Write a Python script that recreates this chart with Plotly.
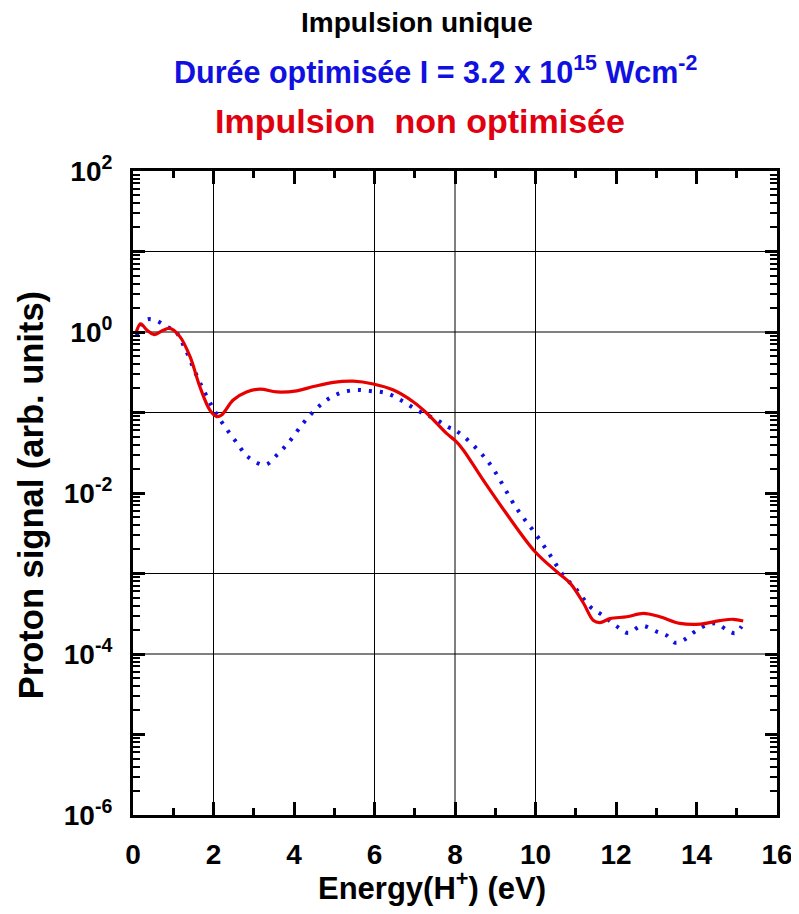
import plotly.graph_objects as go
import math

# ---- data ----
energy_red = [0.07, 0.19, 0.35, 0.53, 0.75, 0.92, 1.17, 1.42, 1.66, 1.91, 2.08, 2.2, 2.49, 2.82,
              3.16, 3.57, 4.07, 4.48, 4.98, 5.47, 5.97, 6.47, 6.96, 7.3, 7.79, 8.02, 8.21, 8.66,
              9.25, 9.99, 10.53, 10.86, 11.19, 11.44, 11.6, 11.85, 12.27, 12.68, 13.09, 13.59,
              14.09, 14.58, 14.91, 15.16]
signal_red = [0.96, 1.26, 1.05, 0.93, 1.05, 1.11, 0.87, 0.49, 0.21, 0.107, 0.089, 0.093, 0.143, 0.18,
              0.195, 0.18, 0.186, 0.21, 0.237, 0.245, 0.226, 0.19, 0.136, 0.098, 0.055, 0.044, 0.034, 0.0155,
              0.0058, 0.00186, 0.00105, 0.00076, 0.00043, 0.00026, 0.000245, 0.000275, 0.00029, 0.00032,
              0.00029, 0.00024, 0.000235, 0.00026, 0.00027, 0.000257]

energy_blue = [0.09, 0.21, 0.38, 0.59, 0.84, 1.04, 1.29, 1.54, 1.79, 2.04, 2.29, 2.58, 2.86, 3.28,
               3.57, 3.86, 4.23, 4.52, 4.81, 5.14, 5.52, 5.89, 6.3, 6.72, 7.13, 7.55, 7.83, 8.02,
               8.79, 9.53, 9.99, 10.36, 10.69, 11.02, 11.35, 11.68, 12.02, 12.3, 12.64, 13.01, 13.26,
               13.47, 13.67, 13.96, 14.25, 14.5, 14.75, 14.96, 15.12]
signal_blue = [0.87, 1.28, 1.44, 1.38, 1.16, 1.04, 0.63, 0.32, 0.174, 0.102, 0.066, 0.042, 0.028, 0.0224,
               0.0295, 0.042, 0.074, 0.107, 0.143, 0.174, 0.19, 0.185, 0.174, 0.136, 0.102, 0.081, 0.066, 0.060,
               0.0257, 0.00645, 0.00316, 0.0017, 0.00095, 0.00063, 0.00039, 0.0003, 0.00022, 0.000182,
               0.000224, 0.00019, 0.00017, 0.000138, 0.000148, 0.00019, 0.000229, 0.00024, 0.0002,
               0.000182, 0.00022]

x_ticks = [0, 2, 4, 6, 8, 10, 12, 14, 16]
y_decades = [1e-6, 1e-5, 1e-4, 1e-3, 1e-2, 1e-1, 1e0, 1e1, 1e2]
y_ticktext = ["10<sup>-6</sup>", "", "10<sup>-4</sup>", "", "10<sup>-2</sup>", "",
              "10<sup>0</sup>", "", "10<sup>2</sup>"]
x_grid = [2, 6, 8, 10]
y_grid = [1e-4, 1e-3, 1e-1, 1e0, 1e1]
y_minor = [k * 10.0 ** e for e in range(-6, 2) for k in range(2, 10)]
Y_LOG_RANGE = [-6, 2]

FONT = "Liberation Sans, Arial, sans-serif"
BLUE = "#1010e0"
RED = "#e80000"

fig = go.Figure()
fig.add_trace(go.Scatter(x=energy_blue, y=signal_blue, mode="lines",
                         line=dict(color=BLUE, width=4, dash="3px,8px", shape="spline"),
                         showlegend=False))
fig.add_trace(go.Scatter(x=energy_red, y=signal_red, mode="lines",
                         line=dict(color=RED, width=3.2, shape="spline"),
                         showlegend=False))

# partial grid (only some lines are drawn in the reference)
for gx in x_grid:
    fig.add_shape(type="line", xref="x", yref="paper", x0=gx, x1=gx, y0=0, y1=1,
                  line=dict(color="black", width=1), layer="below")
for gy in y_grid:
    frac = (math.log10(gy) - Y_LOG_RANGE[0]) / (Y_LOG_RANGE[1] - Y_LOG_RANGE[0])
    fig.add_shape(type="line", xref="paper", yref="y domain", x0=0, x1=1, y0=frac, y1=frac,
                  line=dict(color="black", width=1), layer="below")

fig.update_layout(
    xaxis=dict(range=[0, 16], tickvals=x_ticks, ticktext=[str(v) for v in x_ticks],
               ticks="inside", ticklen=13, tickwidth=3, tickcolor="black",
               minor=dict(dtick=1, tick0=0, ticks="inside", ticklen=7, tickwidth=3, tickcolor="black",
                          showgrid=False),
               showline=True, linewidth=3, linecolor="black", mirror="ticks",
               showgrid=False, zeroline=False, ticklabelstandoff=12, automargin=False,
               tickfont=dict(family=FONT, size=28, color="black", weight="bold")),
    yaxis=dict(type="log", range=Y_LOG_RANGE, tickvals=y_decades, ticktext=y_ticktext,
               ticks="inside", ticklen=12, tickwidth=3, tickcolor="black",
               minor=dict(tickvals=y_minor, ticks="inside", ticklen=7, tickwidth=2, tickcolor="black",
                          showgrid=False),
               showline=True, linewidth=3, linecolor="black", mirror="ticks",
               showgrid=False, zeroline=False, ticklabelstandoff=12, automargin=False,
               tickfont=dict(family=FONT, size=28, color="black", weight="bold")),
    width=791, height=906,
    margin=dict(l=125, r=22, t=163, b=99, autoexpand=False),
    paper_bgcolor="white", plot_bgcolor="white",
    showlegend=False,
)

def ann(text, x, y, size, color, angle=0):
    fig.add_annotation(text=text, x=x, y=y, xref="paper", yref="paper", showarrow=False,
                       xanchor="center", yanchor="middle", textangle=angle, borderpad=0,
                       font=dict(family=FONT, size=size, color=color, weight="bold"))

ann("Impulsion unique", 0.441, 1.230, 28, "black")
ann("Durée optimisée I = 3.2 x 10<sup>15</sup> Wcm<sup>-2</sup>", 0.470, 1.156, 30.5, BLUE)
ann("Impulsion\u00a0\u00a0non optimisée", 0.446, 1.078, 34, "#e00010")
ann("Energy(H<sup>+</sup>) (eV)", 0.464, -0.110, 31, "black")
ann("Proton signal (arb. units)", -0.159, 0.496, 34.5, "black", angle=-90)

fig.write_html("out.html")
